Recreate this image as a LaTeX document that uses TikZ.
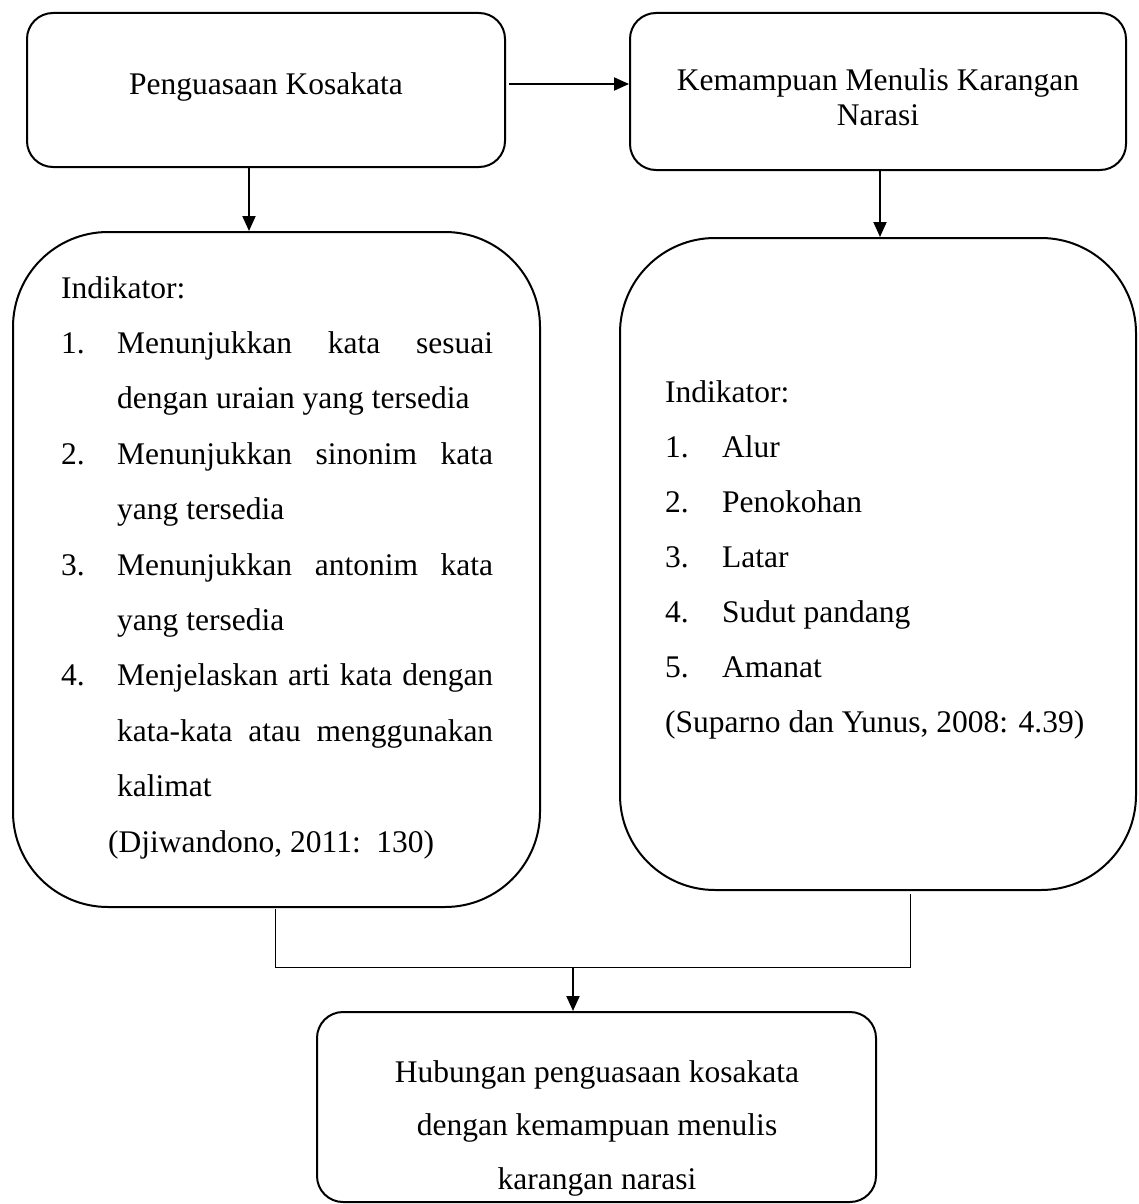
\documentclass[tikz,border=0pt]{standalone}
\usepackage{fontspec}
\setmainfont{Liberation Serif}
\usetikzlibrary{arrows.meta}
\begin{document}
\begin{tikzpicture}[x=1pt,y=-1pt,
  smallbox/.style={draw, line width=2pt, rounded corners=26pt, inner sep=0pt},
  bigbox/.style={draw, line width=2pt, rounded corners=95pt, inner sep=0pt},
  arr/.style={-{Triangle[length=15pt,width=13pt]}, line width=2pt},
  joinline/.style={line width=1pt},
  txt/.style={anchor=base west, inner sep=0pt, font=\fontsize{31.5}{40}\selectfont},
  ctxt/.style={anchor=base, inner sep=0pt, font=\fontsize{31.5}{40}\selectfont}]
\useasboundingbox (0,0) rectangle (1138,1204);
% boxes
\node[smallbox, minimum width=478pt, minimum height=154pt] (b1) at (266,90) {};
\node[smallbox, minimum width=496pt, minimum height=157pt] (b2) at (878,91.5) {};
\node[bigbox, minimum width=527pt, minimum height=675pt] (l) at (276.5,569.5) {};
\node[bigbox, minimum width=516pt, minimum height=652pt] (r) at (878,564) {};
\node[smallbox, minimum width=559pt, minimum height=190pt] (bt) at (596.5,1107) {};
% box texts
\node[ctxt] (t1) at (266,95) {Penguasaan Kosakata};
\node[ctxt] (t2a) at (878,91) {Kemampuan Menulis Karangan};
\node[ctxt] (t2b) at (878,125) {Narasi};
\node[ctxt] (t3a) at (597,1082) {Hubungan penguasaan kosakata};
\node[ctxt] (t3b) at (597,1135) {dengan kemampuan menulis};
\node[ctxt] (t3c) at (597,1189) {karangan narasi};
% left list
\node[txt] (li) at (61,298) {Indikator:};
\node[txt] (ln1) at (61,353.4) {1.};
\node[txt] (la1) at (117,353.4) {\hbox to 376pt{Menunjukkan\hfill kata\hfill sesuai}};
\node[txt] (lb1) at (117,408.8) {dengan uraian yang tersedia};
\node[txt] (ln2) at (61,464.2) {2.};
\node[txt] (la2) at (117,464.2) {\hbox to 376pt{Menunjukkan\hfill sinonim\hfill kata}};
\node[txt] (lb2) at (117,519.6) {yang tersedia};
\node[txt] (ln3) at (61,575) {3.};
\node[txt] (la3) at (117,575) {\hbox to 376pt{Menunjukkan\hfill antonim\hfill kata}};
\node[txt] (lb3) at (117,630.4) {yang tersedia};
\node[txt] (ln4) at (61,685.8) {4.};
\node[txt] (la4) at (117,685.8) {\hbox to 376pt{Menjelaskan\hfill arti\hfill kata\hfill dengan}};
\node[txt] (lb4) at (117,741.2) {\hbox to 376pt{kata-kata\hfill atau\hfill menggunakan}};
\node[txt] (lc4) at (117,796.6) {kalimat};
\node[txt] (lsrc) at (108,852) {(Djiwandono, 2011:\ \ 130)};
% right list
\node[txt] (ri) at (665,402) {Indikator:};
\node[txt] (rn1) at (665,457) {1.};
\node[txt] (ra1) at (722,457) {Alur};
\node[txt] (rn2) at (665,512) {2.};
\node[txt] (ra2) at (722,512) {Penokohan};
\node[txt] (rn3) at (665,567) {3.};
\node[txt] (ra3) at (722,567) {Latar};
\node[txt] (rn4) at (665,622) {4.};
\node[txt] (ra4) at (722,622) {Sudut pandang};
\node[txt] (rn5) at (665,677) {5.};
\node[txt] (ra5) at (722,677) {Amanat};
\node[txt] (rsrc) at (665,732) {(Suparno dan Yunus, 2008: 4.39)};
% connectors
\draw[arr] ([xshift=3pt,yshift=6pt]b1.east) -- ([yshift=7.5pt]b2.west);
\draw[arr] (b1.south -| 249,0) -- (l.north -| 249,0);
\draw[arr] (b2.south -| 880,0) -- (r.north -| 880,0);
\coordinate (jl) at (275,967);
\coordinate (jr) at (910,967);
\coordinate (jm) at (573,967);
\draw[joinline] ([yshift=-1pt]l.south -| jl) -- (jl) -- (jr) -- ([yshift=-3pt]r.south -| jr);
\draw[arr] (jm) -- (bt.north -| jm);
\end{tikzpicture}
\end{document}
